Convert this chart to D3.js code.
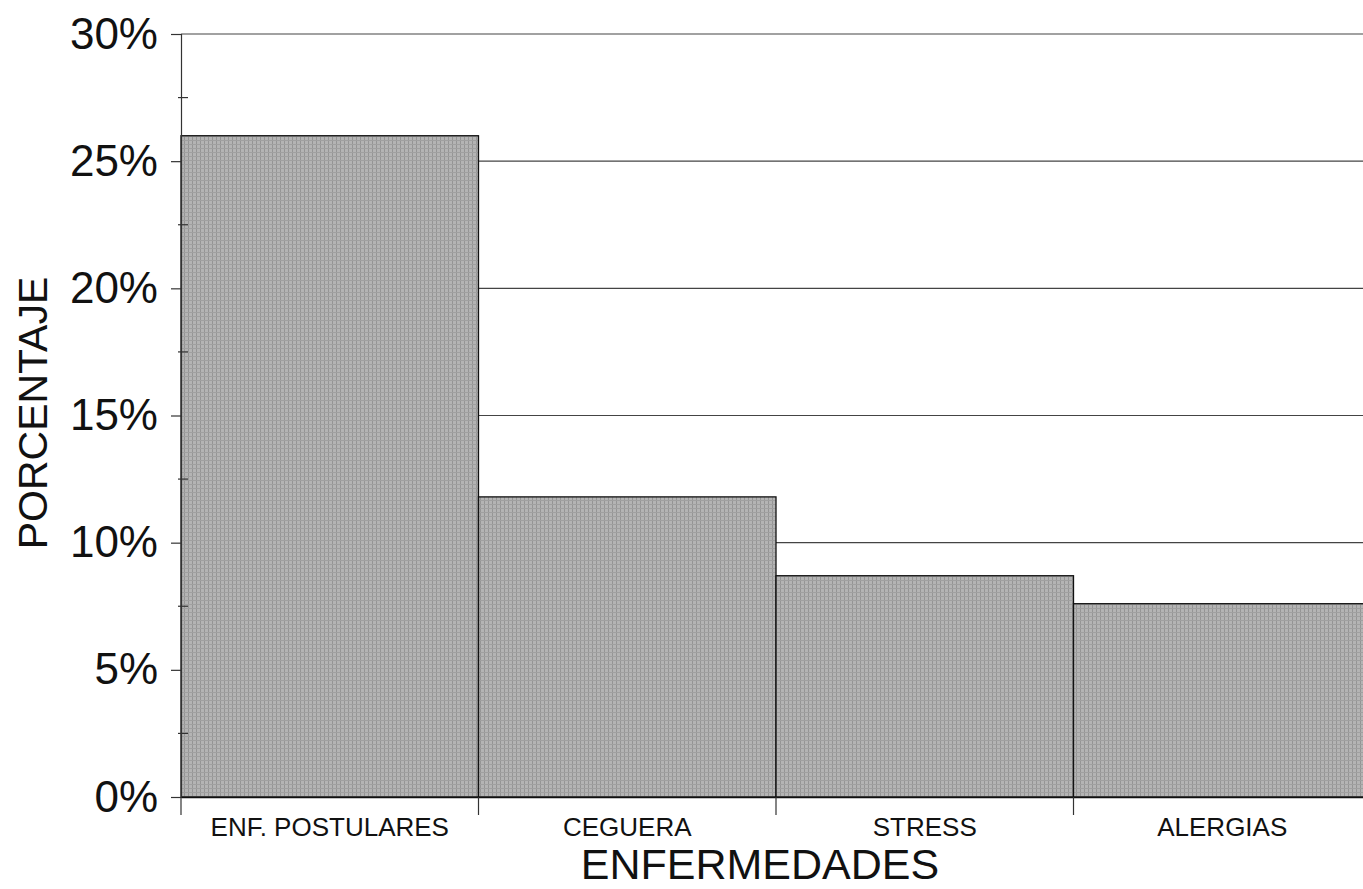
<!DOCTYPE html>
<html>
<head>
<meta charset="utf-8">
<script src="https://cdn.jsdelivr.net/npm/d3@7"></script>
<style>
  html, body { margin: 0; padding: 0; background: #fff; overflow: hidden; }
  svg { display: block; font-family: "Liberation Sans", Arial, sans-serif; }
</style>
</head>
<body>
<div id="chart"></div>
<script>
// data
const categories = ['ENF. POSTULARES', 'CEGUERA', 'STRESS', 'ALERGIAS'];
const values = [26.0, 11.8, 8.7, 7.6];
const yTicks = [0, 5, 10, 15, 20, 25, 30];
const yMinorTicks = [2.5, 7.5, 12.5, 17.5, 22.5, 27.5];
const gridTicks = [10, 15, 20, 25, 30];

const config_size = {
  svg_width: 1363,
  svg_height: 889,
  plot_left: 181,
  plot_right: 1371,
  plot_top: 34,
  plot_bottom: 797,
};

const svg = d3.select('#chart').append('svg')
  .attr('width', config_size.svg_width)
  .attr('height', config_size.svg_height);

// halftone-ish fill, like the printed original
const defs = svg.append('defs');
const pat = defs.append('pattern')
  .attr('id', 'screen')
  .attr('patternUnits', 'userSpaceOnUse')
  .attr('width', 4).attr('height', 4);
pat.append('rect').attr('width', 4).attr('height', 4).attr('fill', '#b4b4b4');
pat.append('rect').attr('width', 1).attr('height', 4).attr('fill', '#959595');
pat.append('rect').attr('width', 4).attr('height', 1).attr('fill', '#a0a0a0');

const x = d3.scaleBand()
  .domain(categories)
  .range([config_size.plot_left, config_size.plot_right])
  .padding(0);

const y = d3.scaleLinear()
  .domain([0, 30])
  .range([config_size.plot_bottom, config_size.plot_top]);

// gridlines
svg.append('g')
  .selectAll('line')
  .data(gridTicks)
  .join('line')
  .attr('x1', config_size.plot_left)
  .attr('x2', config_size.plot_right)
  .attr('y1', d => y(d))
  .attr('y2', d => y(d))
  .attr('stroke', '#444')
  .attr('stroke-width', 1.2);

// bars
svg.append('g')
  .selectAll('rect')
  .data(values)
  .join('rect')
  .attr('x', (d, i) => x(categories[i]))
  .attr('y', d => y(d))
  .attr('width', x.bandwidth())
  .attr('height', d => y(0) - y(d))
  .attr('fill', 'url(#screen)')
  .attr('stroke', '#111')
  .attr('stroke-width', 1.3);

// y axis
const yAxis = svg.append('g')
  .attr('transform', `translate(${config_size.plot_left},0)`)
  .call(d3.axisLeft(y).tickValues(yTicks).tickSize(10).tickPadding(13)
    .tickFormat(d => d + '%'));
yAxis.select('.domain').attr('stroke', '#333').attr('stroke-width', 1.2);
yAxis.selectAll('.tick line').attr('stroke', '#333').attr('stroke-width', 1.2);
yAxis.selectAll('.tick text')
  .attr('font-size', 44)
  .attr('fill', '#111')
  .attr('font-family', '"Liberation Sans", Arial, sans-serif');

// minor ticks crossing the axis
svg.append('g')
  .selectAll('line')
  .data(yMinorTicks)
  .join('line')
  .attr('x1', config_size.plot_left - 3)
  .attr('x2', config_size.plot_left + 7)
  .attr('y1', d => y(d))
  .attr('y2', d => y(d))
  .attr('stroke', '#333')
  .attr('stroke-width', 1.2);

// x axis
const xAxis = svg.append('g')
  .attr('transform', `translate(0,${config_size.plot_bottom})`)
  .call(d3.axisBottom(x).tickSize(0).tickPadding(21));
xAxis.select('.domain').attr('stroke', '#111').attr('stroke-width', 1.6);
xAxis.selectAll('.tick text')
  .attr('font-size', 26)
  .attr('fill', '#111')
  .attr('font-family', '"Liberation Sans", Arial, sans-serif');

// category separator ticks below the axis
svg.append('g')
  .selectAll('line')
  .data(categories)
  .join('line')
  .attr('x1', d => x(d))
  .attr('x2', d => x(d))
  .attr('y1', config_size.plot_bottom)
  .attr('y2', config_size.plot_bottom + 18)
  .attr('stroke', '#333')
  .attr('stroke-width', 1.2);

// axis titles
svg.append('text')
  .attr('x', 760)
  .attr('y', 879)
  .attr('text-anchor', 'middle')
  .attr('font-size', 43)
  .attr('fill', '#111')
  .text('ENFERMEDADES');

svg.append('text')
  .attr('transform', 'translate(47,413) rotate(-90)')
  .attr('text-anchor', 'middle')
  .attr('font-size', 41)
  .attr('fill', '#111')
  .text('PORCENTAJE');
</script>
</body>
</html>
